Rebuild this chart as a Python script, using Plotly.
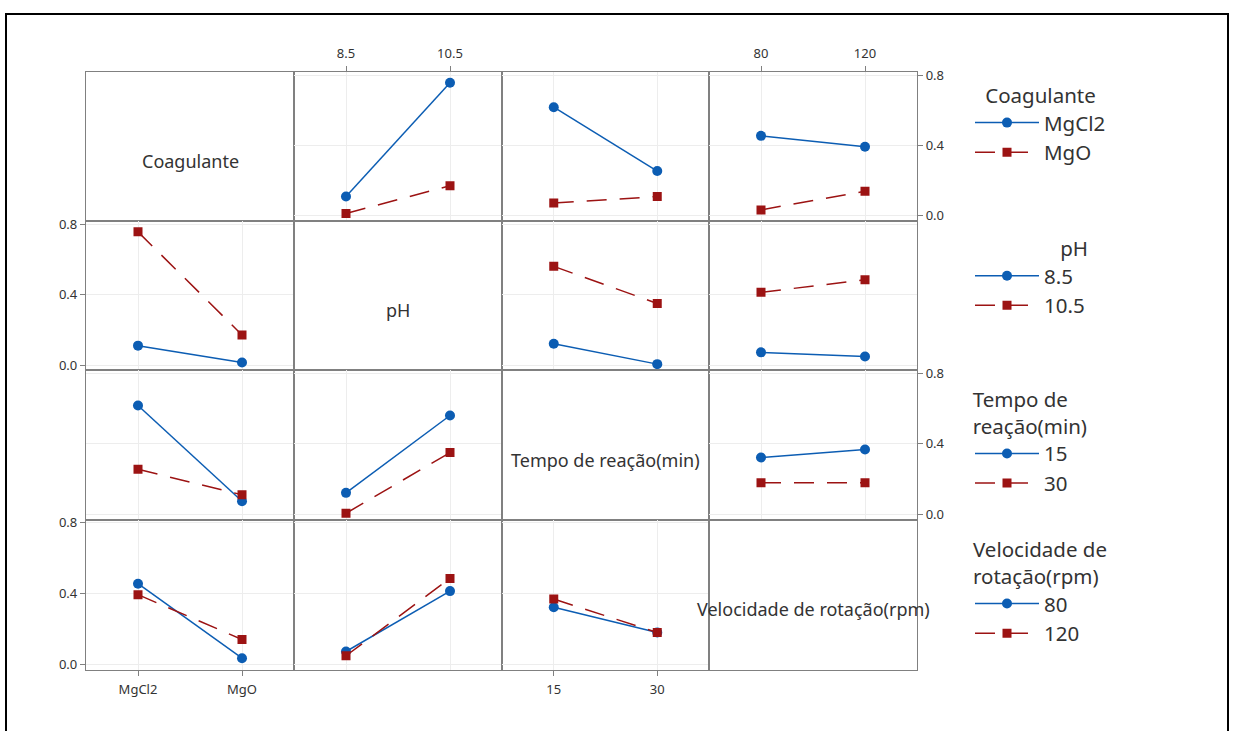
import plotly.graph_objects as go

# ---------------- data ----------------
factor_names = ["Coagulante", "pH", "Tempo de reação(min)", "Velocidade de rotação(rpm)"]
legend_titles = ["Coagulante", "pH", "Tempo de<br>reação(min)", "Velocidade de<br>rotação(rpm)"]

coag_levels = ["MgCl2", "MgO"]
ph_levels = ["8.5", "10.5"]
tempo_levels = ["15", "30"]
vel_levels = ["80", "120"]

# interaction means: rows = levels of first factor, cols = levels of second factor
coag_ph = [[0.110, 0.757], [0.014, 0.171]]
coag_tempo = [[0.618, 0.255], [0.073, 0.110]]
coag_vel = [[0.455, 0.393], [0.034, 0.140]]
ph_tempo = [[0.121, 0.005], [0.561, 0.350]]
ph_vel = [[0.072, 0.048], [0.413, 0.485]]
tempo_vel = [[0.322, 0.368], [0.179, 0.179]]

y_ticks = [0.0, 0.4, 0.8]
# --------------------------------------

levels = [coag_levels, ph_levels, tempo_levels, vel_levels]
pair = {(0, 1): coag_ph, (0, 2): coag_tempo, (0, 3): coag_vel,
        (1, 2): ph_tempo, (1, 3): ph_vel, (2, 3): tempo_vel}

W, H = 1234, 731
col_px = [86, 294, 502, 709, 917]
row_px = [67, 218, 369, 520, 672]
YR = [-0.031, 0.817]

BLUE = "#0C5DB3"
RED = "#9C1313"
GRID = "#EDEDED"
FRAME = "#808080"
TXT = "#333333"
FONT = "Noto Sans"

styles = [
    dict(color=BLUE, dash="solid", symbol="circle", size=10),
    dict(color=RED, dash="20px,13px", symbol="square", size=9),
]

fig = go.Figure()
layout = {}
legend_ids = ["legend", "legend2", "legend3", "legend4"]

for r in range(4):
    for c in range(4):
        n = r * 4 + c + 1
        xa = "xaxis" if n == 1 else f"xaxis{n}"
        ya = "yaxis" if n == 1 else f"yaxis{n}"
        xr = "x" if n == 1 else f"x{n}"
        yr = "y" if n == 1 else f"y{n}"
        diag = r == c
        xdom = [col_px[c] / W, col_px[c + 1] / W]
        ydom = [1 - row_px[r + 1] / H, 1 - row_px[r] / H]

        show_top = (r == 0 and c in (1, 3))
        show_bot = (r == 3 and c in (0, 2))
        show_left = (c == 0 and r in (1, 3))
        show_right = (c == 3 and r in (0, 2))

        layout[xa] = dict(
            domain=xdom, anchor=yr, type="category", range=[-0.5, 1.5],
            showline=True, mirror=True, linecolor=FRAME, linewidth=1.2,
            showgrid=not diag, gridcolor=GRID, gridwidth=1, zeroline=False,
            side="top" if show_top else "bottom",
            showticklabels=show_top or show_bot,
            ticks="outside" if (show_top or show_bot) else "",
            ticklen=5, tickcolor=FRAME, tickwidth=1.2, ticklabelstandoff=3,
            tickfont=dict(family=FONT, size=13, color=TXT),
            fixedrange=True,
        )
        if diag:
            layout[xa]["type"] = "linear"
            layout[xa]["showticklabels"] = False
            layout[xa]["ticks"] = ""
        layout[ya] = dict(
            domain=ydom, anchor=xr, range=YR,
            showline=True, mirror=True, linecolor=FRAME, linewidth=1.2,
            showgrid=not diag, gridcolor=GRID, gridwidth=1, zeroline=False,
            tickvals=y_ticks, tickformat=".1f",
            side="right" if show_right else "left",
            showticklabels=show_left or show_right,
            ticks="outside" if (show_left or show_right) else "",
            ticklen=5, tickcolor=FRAME, tickwidth=1.2,
            tickfont=dict(family=FONT, size=13, color=TXT),
            fixedrange=True,
        )

        if diag:
            fig.add_annotation(text=factor_names[r], xref=f"{xr} domain", yref=yr,
                               x=0.5, y=0.31, showarrow=False,
                               font=dict(family=FONT, size=18, color=TXT))
            continue

        for k in range(2):
            if r < c:
                yvals = pair[(r, c)][k]
            else:
                m = pair[(c, r)]
                yvals = [m[j][k] for j in range(2)]
            st = styles[k]
            first = (c == (1 if r == 0 else 0))
            fig.add_trace(go.Scatter(
                x=levels[c], y=yvals, xaxis=xr, yaxis=yr,
                mode="lines+markers",
                name=levels[r][k],
                legend=legend_ids[r],
                showlegend=first,
                line=dict(color=st["color"], width=1.5, dash=st["dash"]),
                marker=dict(color=st["color"], symbol=st["symbol"], size=st["size"]),
                hoverinfo="x+y+name",
            ))

legend_tops = [71, 226, 379, 531]
title_sides = ["top center", "top right", "top right", "top right"]
for i, lid in enumerate(legend_ids):
    layout[lid] = dict(
        x=970 / W, y=1 - legend_tops[i] / H, xanchor="left", yanchor="top",
        title=dict(text=legend_titles[i], side=title_sides[i],
                   font=dict(family=FONT, size=20.5, color=TXT)),
        font=dict(family=FONT, size=20.5, color=TXT),
        bgcolor="rgba(0,0,0,0)", borderwidth=0, itemwidth=64, tracegroupgap=0,
    )

fig.update_layout(**layout)
fig.update_layout(
    width=W, height=H, margin=dict(l=0, r=0, t=0, b=0),
    paper_bgcolor="white", plot_bgcolor="white",
    showlegend=True,
    shapes=[dict(type="rect", xref="paper", yref="paper",
                 x0=6 / W, x1=1228 / W, y0=-0.05, y1=1 - 8 / H,
                 line=dict(color="black", width=2), fillcolor="rgba(0,0,0,0)", layer="above")],
)

fig.write_html("out.html")
